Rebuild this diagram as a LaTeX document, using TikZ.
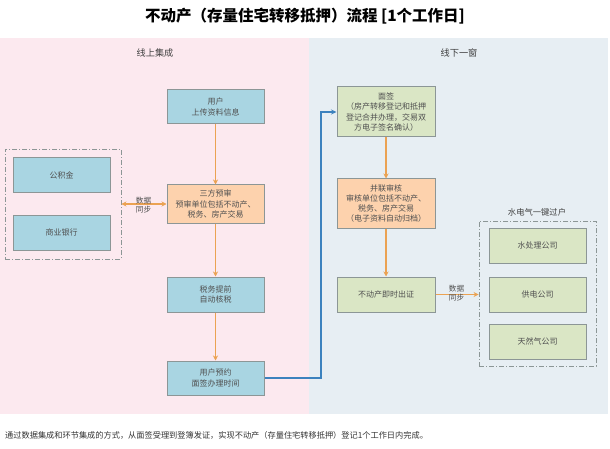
\documentclass[tikz,border=0pt]{standalone}
\usepackage{fontspec}
\setmainfont{Noto Sans CJK SC}
\usetikzlibrary{arrows.meta}
\definecolor{bgpink}{HTML}{FCE9EF}
\definecolor{bgblue}{HTML}{E7EEF3}
\definecolor{boxblue}{HTML}{A9D5E2}
\definecolor{boxorange}{HTML}{FDD2AD}
\definecolor{boxgreen}{HTML}{DAE6C5}
\definecolor{boxline}{HTML}{8C9696}
\definecolor{boxtext}{HTML}{505050}
\definecolor{arrorange}{HTML}{EBA252}
\definecolor{arrblue}{HTML}{3C82BE}
\tikzset{
  basebox/.style={draw=boxline, line width=1pt, text=boxtext, align=center,
    inner sep=1pt, font=\fontsize{8}{10.2}\selectfont, minimum width=97pt},
  bluebox/.style={basebox, fill=boxblue},
  orangebox/.style={basebox, fill=boxorange},
  greenbox/.style={basebox, fill=boxgreen},
  grpbox/.style={draw=boxline, line width=0.9pt, dash pattern=on 5pt off 2pt on 1pt off 2pt, inner sep=0pt},
  flowarr/.style={draw=arrorange, line width=1.5pt, -{Stealth[length=5pt,width=5pt]}},
  linkarr/.style={draw=arrblue, line width=1.6pt, -{Stealth[length=5.5pt,width=5pt]}},
  synclbl/.style={font=\fontsize{7.6}{9.5}\selectfont, text=boxtext, align=center, inner sep=0pt},
  headlbl/.style={font=\fontsize{9.2}{11}\selectfont, text=black!75, inner sep=0pt},
}
\begin{document}
\begin{tikzpicture}[x=1pt,y=-1pt]
\useasboundingbox (0,0) rectangle (610,449);
% backgrounds
\fill[bgpink] (0,38) rectangle (309,414);
\fill[bgblue] (309,38) rectangle (608,414);
% title
\node[font=\fontsize{15.5}{18}\selectfont\bfseries, inner sep=0pt] (title) at (305,16) {不动产（存量住宅转移抵押）流程 [1个工作日]};
\node[headlbl] (hleft) at (155,53) {线上集成};
\node[headlbl] (hright) at (459,53) {线下一窗};
% left column
\node[bluebox, minimum height=34pt] (u1) at (215.5,107) {用户\\上传资料信息};
\node[orangebox, minimum height=38pt] (pre) at (215.5,204) {三方预审\\预审单位包括不动产、\\税务、房产交易};
\node[bluebox, minimum height=35pt] (tax) at (215.5,294.5) {税务提前\\自动核税};
\node[bluebox, minimum height=34pt] (appt) at (215.5,378) {用户预约\\面签办理时间};
% left group
\node[grpbox, minimum width=116pt, minimum height=110pt] (grpL) at (63,204) {};
\node[bluebox, minimum height=35pt] (gjj) at (61.5,175.5) {公积金};
\node[bluebox, minimum height=35pt] (bank) at (61.5,232.5) {商业银行};
% right column
\node[greenbox, minimum width=98pt, minimum height=50pt] (sign) at (386,112) {面签\\（房产转移登记和抵押\\登记合并办理，交易双\\方电子签名确认）};
\node[orangebox, minimum width=98pt, minimum height=49pt] (para) at (386,203.5) {并联审核\\审核单位包括不动产、\\税务、房产交易\\（电子资料自动归档）};
\node[greenbox, minimum width=98pt, minimum height=35pt] (cert) at (386,294.5) {不动产即时出证};
% right group
\node[grpbox, minimum width=117pt, minimum height=145pt] (grpR) at (537.5,293.5) {};
\node[headlbl, font=\fontsize{8.3}{10}\selectfont] (grpRlbl) at (537,212) {水电气一键过户};
\node[greenbox, minimum height=35pt] (water) at (537.5,245.5) {水处理公司};
\node[greenbox, minimum height=35pt] (power) at (537.5,294.5) {供电公司};
\node[greenbox, minimum height=35pt] (gas) at (537.5,341.5) {天然气公司};
% connectors
\draw[flowarr] (u1.south) -- (pre.north);
\draw[flowarr] (pre.south) -- (tax.north);
\draw[flowarr] (tax.south) -- (appt.north);
\draw[flowarr, {Stealth[length=5pt,width=5pt]}-{Stealth[length=5pt,width=5pt]}] (grpL.east) -- (pre.west);
\node[synclbl] (syncL) at (143.5,205) {数据\\同步};
\coordinate (turn) at (321,378);
\draw[linkarr] (appt.east) -- (turn) |- (sign.west);
\draw[flowarr] (sign.south) -- (para.north);
\draw[flowarr] (para.south) -- (cert.north);
\draw[flowarr] (cert.east) -- (cert.east -| grpR.west);
\node[synclbl] (syncR) at (456.5,293) {数据\\同步};
% footer
\node[anchor=west, font=\fontsize{8.2}{9}\selectfont, text=black!80, inner sep=0pt] (foot) at (5,435) {通过数据集成和环节集成的方式，从面签受理到登簿发证，实现不动产（存量住宅转移抵押）登记1个工作日内完成。};
\end{tikzpicture}
\end{document}
